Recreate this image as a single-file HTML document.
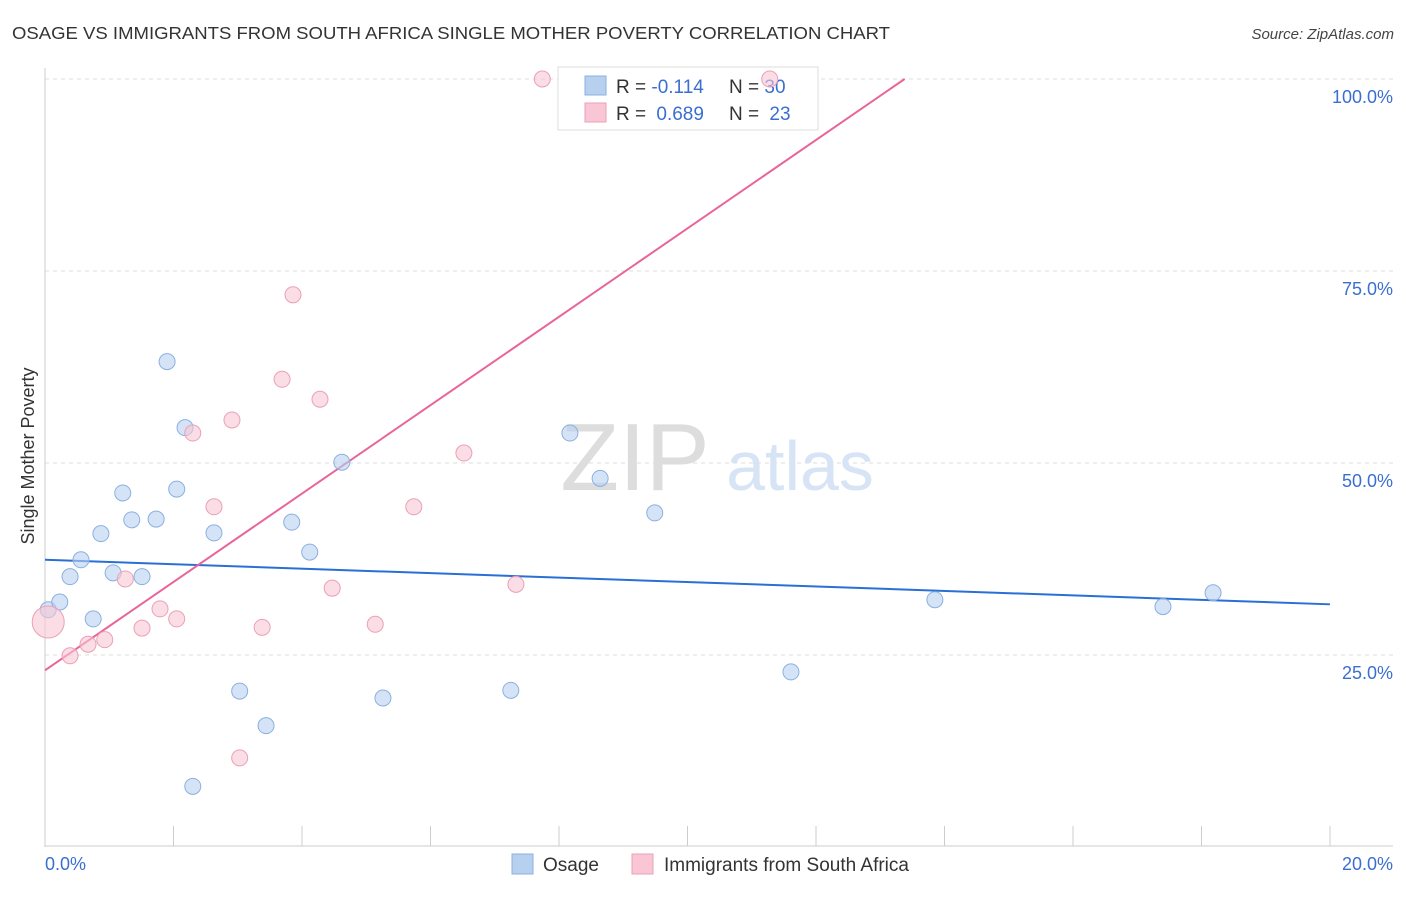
<!DOCTYPE html>
<html><head><meta charset="utf-8">
<style>
body{margin:0;background:#fff;font-family:"Liberation Sans",sans-serif;}
svg text{font-family:"Liberation Sans",sans-serif;}
</style></head>
<body>
<svg id="chart" width="1406" height="892" xmlns="http://www.w3.org/2000/svg">
<text x="12" y="39" font-size="17.5" fill="#333" textLength="878" lengthAdjust="spacingAndGlyphs">OSAGE VS IMMIGRANTS FROM SOUTH AFRICA SINGLE MOTHER POVERTY CORRELATION CHART</text>
<text x="1394" y="39" font-size="15" fill="#444" text-anchor="end" font-style="italic">Source: ZipAtlas.com</text>
<g id="grid"></g>
<g>
<text x="635" y="490" font-size="96" fill="#ddd" font-family="Liberation Serif" text-anchor="middle">ZIP</text>
<text x="800" y="490" font-size="70" fill="#d6e4f5" text-anchor="middle">atlas</text>
</g>
<g id="axes"></g>
<g>
<rect x="558" y="67" width="260" height="63" fill="#fff" stroke="#ddd"/>
<rect x="585" y="76" width="21" height="19" fill="#b8d0f0" stroke="#8ab0e0"/>
<rect x="585" y="103" width="21" height="19" fill="#f9c6d6" stroke="#eaa0b8"/>
<text x="616" y="93" font-size="19" fill="#333">R = <tspan fill="#3a6fd0">-0.114</tspan></text>
<text x="729" y="93" font-size="19" fill="#333">N = <tspan fill="#3a6fd0">30</tspan></text>
<text x="616" y="120" font-size="19" fill="#333">R = <tspan fill="#3a6fd0" dx="5">0.689</tspan></text>
<text x="729" y="120" font-size="19" fill="#333">N = <tspan fill="#3a6fd0" dx="5">23</tspan></text>
</g>
<g id="lines"></g>
<g id="points"></g>
<text transform="translate(34,456) rotate(-90)" font-size="18" fill="#333" text-anchor="middle">Single Mother Poverty</text>
<g>
<rect x="512" y="854" width="21" height="20" fill="#b8d0f0" stroke="#8ab0e0"/>
<text x="543" y="871" font-size="19" fill="#333">Osage</text>
<rect x="632" y="854" width="21" height="20" fill="#f9c6d6" stroke="#eaa0b8"/>
<text x="664" y="871" font-size="19" fill="#333">Immigrants from South Africa</text>
</g>
</svg>
<script>
const blueX=[0.05,0.23,0.39,0.56,0.75,0.87,1.06,1.21,1.35,1.51,1.73,1.90,2.05,2.18,2.30,2.63,3.03,3.44,3.84,4.12,4.62,5.26,7.25,8.17,8.64,9.49,11.61,13.85,17.40,18.18];
const blueY=[30.9,31.9,35.2,37.4,29.7,40.8,35.7,46.1,42.6,35.2,42.7,63.2,46.6,54.6,7.9,40.9,20.3,15.8,42.3,38.4,50.1,19.4,20.4,53.9,48.0,43.5,22.8,32.2,31.3,33.1];
const pinkX=[0.05,0.39,0.67,0.93,1.25,1.51,1.79,2.05,2.30,2.63,2.91,3.03,3.38,3.69,3.86,4.28,4.47,5.14,5.74,6.52,7.33,7.74,11.28];
const pinkY=[29.3,24.9,26.4,27.0,34.9,28.5,31.0,29.7,53.9,44.3,55.6,11.6,28.6,60.9,71.9,58.3,33.7,29.0,44.3,51.3,34.2,100,100];
const blueTrend=[37.4,31.6];
const pinkTrend=[23.0,5.755];
const yTicks=[25,50,75,100];
const yTickLabels=["25.0%","50.0%","75.0%","100.0%"];
const xTickVals=[2,4,6,8,10,12,14,16,18,20];
const NS="http://www.w3.org/2000/svg";
const sx=v=>45+v/20*1285, sy=v=>847-v/100*768;
function mk(tag,attrs,parent){const e=document.createElementNS(NS,tag);for(const k in attrs)e.setAttribute(k,attrs[k]);document.getElementById(parent).appendChild(e);return e;}
yTicks.forEach((t,i)=>{
 const l=mk('line',{x1:45,x2:1393,y1:sy(t),y2:sy(t),stroke:'#ddd','stroke-dasharray':'4,4'},'grid');
 
 
 const tx=mk('text',{x:1393,y:sy(t)+24,'font-size':18,fill:'#3a6fd0','text-anchor':'end'},'grid');
 tx.textContent=yTickLabels[i];
 
 
});
mk('line',{x1:45,x2:45,y1:68,y2:847,stroke:'#ccc'},'axes');
mk('line',{x1:45,x2:1393,y1:846,y2:846,stroke:'#ccc'},'axes');
xTickVals.forEach(t=>{
 const l=mk('line',{x1:sx(t),x2:sx(t),y1:826,y2:846,stroke:'#ccc'},'axes');
 
 
});
let a=mk('text',{x:45,y:870,'font-size':18,fill:'#3a6fd0'},'axes');a.textContent='0.0%';


a=mk('text',{x:1393,y:870,'font-size':18,fill:'#3a6fd0','text-anchor':'end'},'axes');a.textContent='20.0%';


blueX.forEach((x,i)=>{
 const c=mk('circle',{cx:sx(x),cy:sy(blueY[i]),r:8,fill:'rgba(184,208,240,0.6)',stroke:'#8ab0e0','stroke-width':1},'points');
 
 
});
pinkX.forEach((x,i)=>{
 const c=mk('circle',{cx:sx(x),cy:sy(pinkY[i]),r:i===0?16:8,fill:'rgba(249,198,214,0.6)',stroke:'#eaa0b8','stroke-width':1},'points');
 
 
});
let bl=mk('line',{x1:sx(0),y1:sy(blueTrend[0]),x2:sx(20),y2:sy(blueTrend[1]),stroke:'#2a6fd6','stroke-width':2},'lines');


const xe=(100-pinkTrend[0])/pinkTrend[1];
let pl=mk('line',{x1:sx(0),y1:sy(pinkTrend[0]),x2:sx(xe),y2:sy(100),stroke:'#e8659a','stroke-width':2},'lines');


</script>
</body></html>
